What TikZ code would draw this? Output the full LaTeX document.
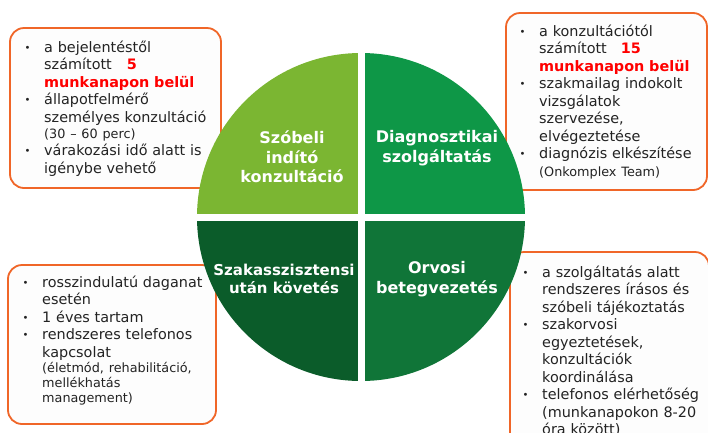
\documentclass[tikz,border=0pt]{standalone}
\usepackage{fontspec}
\setmainfont{DejaVu Sans}
\definecolor{qTL}{RGB}{123,182,50}
\definecolor{qTR}{RGB}{14,151,71}
\definecolor{qBL}{RGB}{11,92,42}
\definecolor{qBR}{RGB}{16,117,56}
\definecolor{boxline}{RGB}{240,102,40}
\definecolor{boxfill}{RGB}{253,253,253}
\definecolor{hot}{RGB}{255,0,0}
\definecolor{txt}{RGB}{35,35,35}
\newcommand\bitem[1]{\noindent\hangindent=21pt\hangafter=1\makebox[21pt][l]{\hspace{1.5pt}\raisebox{1pt}{\fontsize{10}{10}\selectfont\textbullet}}#1\par}
\newcommand\subnote[2][15.5]{{\fontsize{12.8}{#1}\selectfont\leftskip=21pt\noindent #2\par}}
\newcommand\hot[1]{\textcolor{hot}{\bfseries #1}}
\tikzset{
  infobox/.style={draw=boxline, line width=1.8pt, fill=boxfill, rounded corners=14pt},
  infotext/.style={anchor=base west, inner sep=0pt, text width=210pt, text=txt,
    font=\fontsize{14.4}{17.5}\selectfont},
  quadlabel/.style={text=white, align=center, inner sep=0pt,
    font=\fontsize{16}{19.5}\selectfont\bfseries}
}
\begin{document}
\begin{tikzpicture}[x=1pt,y=-1pt]
\useasboundingbox (0,0) rectangle (708,432);
\clip (0,0) rectangle (708,432);
% boxes
\draw[infobox] (10,28) rectangle (221,188);
\draw[infobox] (506,13) rectangle (707,190);
\draw[infobox] (8,265) rectangle (216,424);
\draw[infobox] (510,252) rectangle (709,450);
% box texts
\node[infotext] (tltext) at (23,52) {\raggedright\parskip=0pt%
\bitem{a bejelentéstől\newline számított\hspace{15pt}\hot{5}\newline \hot{munkanapon belül}}%
\bitem{állapotfelmérő\newline személyes konzultáció}%
\subnote[16]{(30 – 60 perc)}%
\bitem{várakozási idő alatt is\newline igénybe vehető}};
\node[infotext] (trtext) at (518,36) {\raggedright\parskip=0pt%
\bitem{a konzultációtól\newline számított\hspace{14pt}\hot{15}\newline \hot{munkanapon belül}}%
\bitem{szakmailag indokolt\newline vizsgálatok\newline szervezése,\newline elvégeztetése}%
\bitem{diagnózis elkészítése}%
\subnote[17.5]{(Onkomplex Team)}};
\node[infotext] (bltext) at (21,287) {\raggedright\parskip=0pt%
\bitem{rosszindulatú daganat\newline esetén}%
\bitem{1 éves tartam}%
\bitem{rendszeres telefonos\newline kapcsolat}%
\subnote[15]{(életmód, rehabilitáció,\newline mellékhatás\newline management)}};
\node[infotext] (brtext) at (521,277) {\raggedright\parskip=0pt%
\bitem{a szolgáltatás alatt\newline rendszeres írásos és\newline szóbeli tájékoztatás}%
\bitem{szakorvosi\newline egyeztetések,\newline konzultációk\newline koordinálása}%
\bitem{telefonos elérhetőség\newline (munkanapokon 8-20\newline óra között)}};
% circle quadrants
\coordinate (C) at (361,217);
\begin{scope}
  \clip (C) rectangle ++(-200,-200);
  \fill[qTL] (C) circle[radius=164pt];
\end{scope}
\begin{scope}
  \clip (C) rectangle ++(200,-200);
  \fill[qTR] (C) circle[radius=164pt];
\end{scope}
\begin{scope}
  \clip (C) rectangle ++(-200,200);
  \fill[qBL] (C) circle[radius=164pt];
\end{scope}
\begin{scope}
  \clip (C) rectangle ++(200,200);
  \fill[qBR] (C) circle[radius=164pt];
\end{scope}
\draw[white, line width=7pt] ([xshift=-166pt]C) -- ([xshift=166pt]C);
\draw[white, line width=7pt] ([yshift=166pt]C) -- ([yshift=-166pt]C);
% labels
\node[quadlabel] (q1) at (292,157) {Szóbeli\\indító\\konzultáció};
\node[quadlabel] (q2) at (437,148) {Diagnosztikai\\szolgáltatás};
\node[quadlabel, font=\fontsize{15}{18.5}\selectfont\bfseries] (q3) at (284,279) {Szakasszisztensi\\után követés};
\node[quadlabel] (q4) at (437,279) {Orvosi\\betegvezetés};
\end{tikzpicture}
\end{document}
